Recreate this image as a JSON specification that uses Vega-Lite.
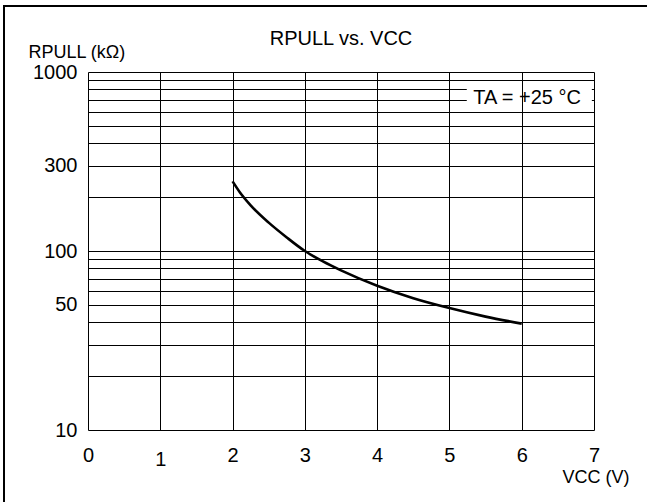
{
  "$schema": "https://vega.github.io/schema/vega-lite/v6.json",
  "width": 650,
  "height": 505,
  "autosize": {"type": "none"},
  "padding": {"left": 4, "top": 6, "right": -7, "bottom": -9},
  "background": "white",
  "config": {
    "font": "Liberation Sans",
    "view": {"stroke": "black", "strokeWidth": 2}
  },
  "title": {
    "text": "RPULL vs. VCC",
    "fontSize": 20,
    "fontWeight": "normal",
    "color": "black",
    "frame": "group",
    "anchor": "middle",
    "offset": 0,
    "baseline": "alphabetic",
    "dx": 12,
    "dy": 59
  },
  "datasets": {
    "curve": [
      {"vcc": 2.0, "r": 245},
      {"vcc": 2.1, "r": 213},
      {"vcc": 2.25, "r": 180},
      {"vcc": 2.5, "r": 144},
      {"vcc": 2.75, "r": 119},
      {"vcc": 3.0, "r": 100},
      {"vcc": 3.25, "r": 87.5},
      {"vcc": 3.5, "r": 78},
      {"vcc": 4.0, "r": 64},
      {"vcc": 4.5, "r": 54.5},
      {"vcc": 5.0, "r": 48},
      {"vcc": 5.5, "r": 43},
      {"vcc": 6.0, "r": 39.3}
    ],
    "note": [
      {"label": "TA = +25 °C"}
    ]
  },
  "resolve": {"axis": {"x": "independent"}},
  "layer": [
    {
      "data": {"name": "note"},
      "mark": {"type": "rect", "fill": "white", "stroke": null, "opacity": 1},
      "encoding": {
        "x": {
          "datum": 5.24,
          "type": "quantitative",
          "axis": {
            "orient": "top",
            "offset": 0,
            "values": [0, 1, 2, 3, 4, 5, 6, 7],
            "labels": false,
            "domain": false,
            "ticks": false,
            "tickSize": 0,
            "grid": true,
            "gridColor": "black",
            "gridWidth": 1,
            "gridOpacity": 1,
            "zindex": 1,
            "title": null
          }
        },
        "x2": {"datum": 6.97},
        "y": {"datum": 655, "type": "quantitative"},
        "y2": {"datum": 865}
      }
    },
    {
      "data": {"name": "note"},
      "mark": {"type": "text", "fontSize": 20, "align": "left", "baseline": "middle", "fill": "black", "font": "Liberation Sans"},
      "encoding": {
        "x": {"datum": 5.33, "type": "quantitative", "axis": null},
        "y": {"datum": 720, "type": "quantitative"},
        "text": {"field": "label"}
      }
    },
    {
      "data": {"name": "curve"},
      "mark": {"type": "line", "color": "black", "strokeWidth": 2.6, "interpolate": "monotone"},
      "encoding": {
        "x": {
          "field": "vcc",
          "type": "quantitative",
          "scale": {"domain": [0, 7], "range": [84, 590], "nice": false, "zero": false},
          "axis": {
            "orient": "bottom",
            "offset": -81,
            "values": [0, 1, 2, 3, 4, 5, 6, 7],
            "format": "d",
            "domain": false,
            "ticks": false,
            "tickSize": 0,
            "labelPadding": {"condition": {"test": "datum.value === 1", "value": 19}, "value": 15},
            "labelFontSize": 20,
            "labelColor": "black",
            "labelFlush": false,
            "labelOverlap": false,
            "grid": false,
            "zindex": 1,
            "title": "VCC (V)",
            "titleFontSize": 18,
            "titleFontWeight": "normal",
            "titleColor": "black",
            "titleX": 625,
            "titleY": 52,
            "titleAlign": "right",
            "titleBaseline": "alphabetic"
          }
        },
        "y": {
          "field": "r",
          "type": "quantitative",
          "scale": {"type": "log", "domain": [10, 1000], "range": [424, 66], "nice": false},
          "axis": {
            "orient": "left",
            "offset": -84,
            "values": [10, 20, 30, 40, 50, 60, 70, 80, 90, 100, 200, 300, 400, 500, 600, 700, 800, 900, 1000],
            "format": "d",
            "labelExpr": "indexof([10, 50, 100, 300, 1000], datum.value) >= 0 ? datum.label : ''",
            "domain": false,
            "ticks": false,
            "tickSize": 0,
            "labelPadding": 11,
            "labelFontSize": 20,
            "labelColor": "black",
            "labelFlush": false,
            "labelOverlap": false,
            "labelBaseline": "middle",
            "grid": true,
            "gridColor": "black",
            "gridWidth": 1,
            "gridOpacity": 1,
            "zindex": 0,
            "title": "RPULL (kΩ)",
            "titleAngle": 0,
            "titleX": -60,
            "titleY": 51,
            "titleAlign": "left",
            "titleBaseline": "alphabetic",
            "titleFontSize": 18,
            "titleFontWeight": "normal",
            "titleColor": "black"
          }
        }
      }
    }
  ]
}
